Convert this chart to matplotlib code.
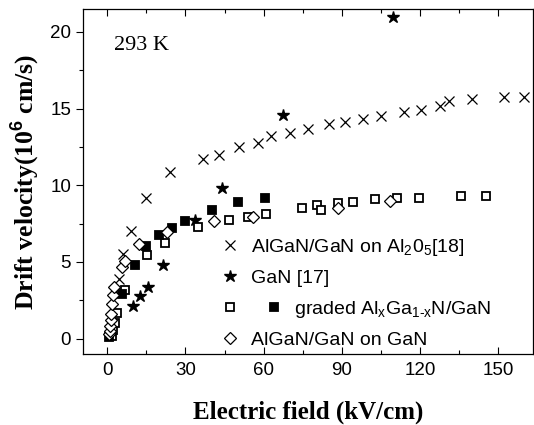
import matplotlib
matplotlib.use("Agg")
import matplotlib.pyplot as plt
from matplotlib.lines import Line2D
from matplotlib.legend_handler import HandlerBase
from matplotlib.ticker import MultipleLocator

# AlGaN/GaN on Al2O5 [18]
sap_x = [4.5, 6.0, 9.0, 15.0, 24.0, 36.6, 43.0, 50.5, 58.0, 62.7, 70.0, 77.0,
         85.0, 91.0, 98.0, 105.0, 114.0, 120.5, 127.5, 131.0, 140.0, 152.0, 160.0]
sap_v = [3.9, 5.5, 7.0, 9.2, 10.9, 11.7, 12.0, 12.5, 12.75, 13.2, 13.4, 13.7,
         14.0, 14.1, 14.3, 14.55, 14.75, 14.9, 15.2, 15.5, 15.6, 15.75, 15.75]

# GaN [17]
gan_x = [10.0, 12.5, 15.7, 21.5, 33.8, 44.0, 67.5, 109.5]
gan_v = [2.1, 2.75, 3.4, 4.8, 7.75, 9.8, 14.6, 21.0]

# graded AlxGa1-xN/GaN, filled
grf_x = [0.8, 5.5, 10.5, 15.0, 20.0, 25.0, 30.0, 40.0, 50.0, 60.5]
grf_v = [0.12, 2.9, 4.8, 6.05, 6.75, 7.2, 7.7, 8.4, 8.9, 9.15]

# graded AlxGa1-xN/GaN, open
gro_x = [1.7, 2.3, 2.8, 3.6, 6.8, 15.3, 22.0, 34.7, 46.8, 54.0, 60.9, 74.8,
         80.6, 82.0, 88.6, 94.4, 102.8, 111.2, 119.6, 135.6, 145.3]
gro_v = [0.15, 0.57, 1.05, 1.7, 3.2, 5.46, 6.22, 7.25, 7.75, 7.92, 8.13, 8.51,
         8.73, 8.36, 8.88, 8.94, 9.1, 9.2, 9.2, 9.29, 9.33]

# AlGaN/GaN on GaN
ong_x = [0.8, 1.0, 1.2, 1.3, 1.4, 1.8, 2.2, 2.7, 5.5, 7.0, 12.0, 23.0,
         41.0, 56.0, 88.5, 108.3]
ong_v = [0.3, 0.5, 0.8, 1.2, 1.6, 2.25, 2.85, 3.4, 4.65, 5.05, 6.15, 6.95,
         7.7, 7.96, 8.53, 8.97]

labels = ["AlGaN/GaN on Al$_2$0$_5$[18]", "GaN [17]",
          "        graded Al$_\\mathregular{x}$Ga$_{\\text{1-x}}$N/GaN",
          "AlGaN/GaN on GaN"]

plt.rcParams['mathtext.fontset'] = 'custom'
plt.rcParams['mathtext.rm'] = 'Liberation Sans'
plt.rcParams['mathtext.it'] = 'Liberation Sans'
plt.rcParams['mathtext.bf'] = 'Liberation Sans:bold'


class PairHandler(HandlerBase):
    # open and filled square side by side in one legend row
    def create_artists(self, legend, orig_handle, xdescent, ydescent,
                       width, height, fontsize, trans):
        out = []
        for h, dx in zip(orig_handle, (0, 32)):
            m = Line2D([width / 2 - xdescent + dx], [height / 2 - ydescent],
                       linestyle='none', marker=h.get_marker(),
                       markersize=h.get_markersize(),
                       markerfacecolor=h.get_markerfacecolor(),
                       markeredgecolor=h.get_markeredgecolor(),
                       markeredgewidth=h.get_markeredgewidth())
            m.set_transform(trans)
            out.append(m)
        return out


fig = plt.figure(figsize=(5.34, 4.25), dpi=100)
ax = fig.add_axes([83 / 534, 1 - 354 / 425, 450 / 534, 345 / 425])

h1, = ax.plot(sap_x, sap_v, 'x', color='black', ms=7, mew=0.9, ls='none')
h2, = ax.plot(gan_x, gan_v, '*', color='black', ms=9, ls='none')
h3, = ax.plot(gro_x, gro_v, 's', mfc='white', mec='black', ms=5.5, mew=1.3, ls='none')
h4, = ax.plot(grf_x, grf_v, 's', mfc='black', mec='black', ms=5.5, mew=1.3, ls='none')
h5, = ax.plot(ong_x, ong_v, 'D', mfc='white', mec='black', ms=6.5, mew=0.9, ls='none')

ax.set_xlim(-9.3, 163.3)
ax.set_ylim(-1.0, 21.5)
ax.xaxis.set_major_locator(MultipleLocator(30))
ax.xaxis.set_minor_locator(MultipleLocator(15))
ax.yaxis.set_major_locator(MultipleLocator(5))
ax.yaxis.set_minor_locator(MultipleLocator(2.5))

ax.tick_params(axis='x', which='both', direction='in', top=True, labelsize=13.5,
               labelfontfamily='Liberation Sans', pad=6)
ax.tick_params(axis='y', which='both', direction='out', labelsize=13.5,
               labelfontfamily='Liberation Sans')
ax.tick_params(axis='y', which='both', right=True)
ax.tick_params(which='major', length=5, width=0.8)
ax.tick_params(which='minor', length=3, width=0.8)
for sp in ax.spines.values():
    sp.set_linewidth(0.9)

ax.set_xlabel("Electric field (kV/cm)", family='Liberation Serif', weight='bold',
              fontsize=18, labelpad=15)
ax.set_ylabel("Drift velocity(10$^\\mathbf{6}$ cm/s)", family='Liberation Serif',
              weight='bold', fontsize=18.5, labelpad=6)
ax.text(0.068, 0.88, "293 K", transform=ax.transAxes, family='Liberation Serif',
        fontsize=16)

leg = ax.legend([h1, h2, (h3, h4), h5], labels, handler_map={tuple: PairHandler()},
                loc='upper left', bbox_to_anchor=(0.305, 0.34), frameon=False,
                handlelength=1.0, handletextpad=0.6, labelspacing=0.6,
                borderpad=0, borderaxespad=0,
                prop={'family': 'Liberation Sans', 'size': 14})

fig.savefig("out.png", dpi=100)
